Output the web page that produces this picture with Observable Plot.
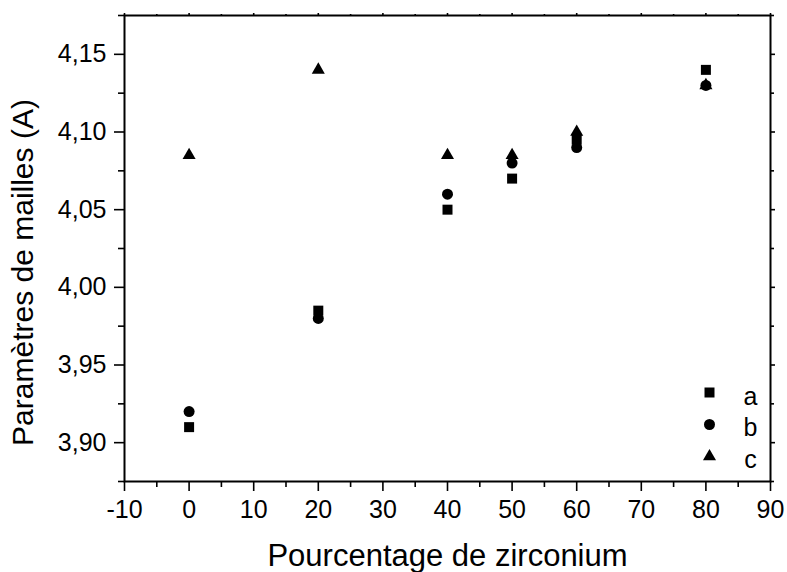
<!DOCTYPE html>
<html><head><meta charset="utf-8">
<script src="https://cdn.jsdelivr.net/npm/d3@7"></script>
<script src="https://cdn.jsdelivr.net/npm/@observablehq/plot@0.6"></script>
<style>
body{margin:0;background:#fff;font-family:"Liberation Sans",Arial,sans-serif}
</style>
</head><body><div id="chart"></div>
<script>
const zirconium = [0, 20, 40, 50, 60, 80];
const seriesA = [3.910, 3.985, 4.050, 4.070, 4.095, 4.140];
const seriesB = [3.920, 3.980, 4.060, 4.080, 4.090, 4.130];
const seriesC = [4.085, 4.140, 4.085, 4.085, 4.100, 4.130];
const seriesNames = ["a", "b", "c"];
const seriesSymbols = ["square", "circle", "triangle"];
const xTicks = [-10, 0, 10, 20, 30, 40, 50, 60, 70, 80, 90];
const yTicks = [3.90, 3.95, 4.00, 4.05, 4.10, 4.15];

const all = [seriesA, seriesB, seriesC];
const fmt = d => d3.format(".2f")(d).replace(".", ",");
const xMinor = d3.range(-5, 90, 10);
const yMinor = d3.range(3.875, 4.176, 0.05).map(v => +v.toFixed(3));
const symR = {square: 5.64, circle: 5.5, triangle: 4.85};

const dotMarks = all.map((vals, s) =>
  Plot.dot(vals.map((v, i) => ({x: zirconium[i], y: v})), {x: "x", y: "y", symbol: seriesSymbols[s], r: symR[seriesSymbols[s]], fill: "black", stroke: "none"})
);

const legendMarks = seriesNames.flatMap((n, i) => [
  Plot.dot([n], {frameAnchor: "bottom-right", dx: -61, dy: -89 + i * 32, symbol: seriesSymbols[i], r: symR[seriesSymbols[i]], fill: "black", stroke: "none"}),
  Plot.text([n], {frameAnchor: "bottom-right", dx: -20, dy: -85 + i * 31.5, text: d => d, textAnchor: "middle", lineAnchor: "middle", fontSize: 25, fill: "black"})
]);

const axOpts = {strokeWidth: 1.6, label: null};
const chart = Plot.plot({
  width: 787, height: 572,
  marginLeft: 124, marginRight: 17, marginTop: 15, marginBottom: 91,
  style: {fontFamily: "'Liberation Sans', Arial, sans-serif", background: "white", color: "black", fontSize: "25px"},
  x: {domain: [-10, 90]},
  y: {domain: [3.875, 4.175]},
  marks: [
    Plot.axisX({anchor: "bottom", ticks: xTicks, tickSize: 10, tickPadding: 9, fontSize: 25, tickFormat: d => String(d), ...axOpts}),
    Plot.axisX({anchor: "bottom", ticks: xMinor, tickSize: 6, tickFormat: () => "", ...axOpts}),
    Plot.axisX({anchor: "top", ticks: xTicks, tickSize: 3, tickFormat: () => "", ...axOpts}),
    Plot.axisX({anchor: "top", ticks: xMinor, tickSize: 2, tickFormat: () => "", ...axOpts}),
    Plot.axisY({anchor: "left", ticks: yTicks, tickSize: 10, tickPadding: 8, fontSize: 25, tickFormat: fmt, ...axOpts}),
    Plot.axisY({anchor: "left", ticks: yMinor, tickSize: 6, tickFormat: () => "", ...axOpts}),
    Plot.axisY({anchor: "right", ticks: yTicks, tickSize: 4, tickFormat: () => "", ...axOpts}),
    Plot.axisY({anchor: "right", ticks: yMinor, tickSize: 3, tickFormat: () => "", ...axOpts}),
    Plot.frame({stroke: "black", strokeWidth: 2}),
    ...dotMarks,
    ...legendMarks,
    Plot.text(["Pourcentage de zirconium"], {frameAnchor: "bottom", dy: 75, text: d => d, textAnchor: "middle", lineAnchor: "middle", fontSize: 31, fill: "black"}),
    Plot.text(["Paramètres de mailles (A)"], {frameAnchor: "left", dx: -101, dy: 24, rotate: -90, text: d => d, textAnchor: "middle", lineAnchor: "middle", fontSize: 30, fill: "black"})
  ]
});
document.getElementById("chart").appendChild(chart);
</script></body></html>
